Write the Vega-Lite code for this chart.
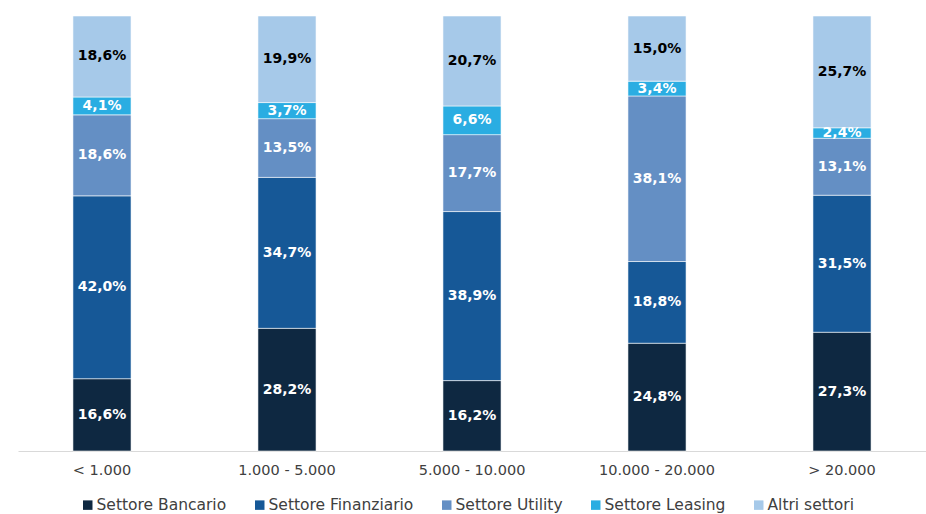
{
  "$schema": "https://vega.github.io/schema/vega-lite/v6.json",
  "width": 908,
  "height": 435,
  "autosize": {"type": "none"},
  "padding": {"left": 18, "top": 16, "right": 0, "bottom": 63},
  "background": "white",
  "data": {"values": [
    {"fascia": "< 1.000", "settore": "Settore Bancario", "ord": 1, "v": 16.6},
    {"fascia": "< 1.000", "settore": "Settore Finanziario", "ord": 2, "v": 42.0},
    {"fascia": "< 1.000", "settore": "Settore Utility", "ord": 3, "v": 18.6},
    {"fascia": "< 1.000", "settore": "Settore Leasing", "ord": 4, "v": 4.1},
    {"fascia": "< 1.000", "settore": "Altri settori", "ord": 5, "v": 18.6},
    {"fascia": "1.000 - 5.000", "settore": "Settore Bancario", "ord": 1, "v": 28.2},
    {"fascia": "1.000 - 5.000", "settore": "Settore Finanziario", "ord": 2, "v": 34.7},
    {"fascia": "1.000 - 5.000", "settore": "Settore Utility", "ord": 3, "v": 13.5},
    {"fascia": "1.000 - 5.000", "settore": "Settore Leasing", "ord": 4, "v": 3.7},
    {"fascia": "1.000 - 5.000", "settore": "Altri settori", "ord": 5, "v": 19.9},
    {"fascia": "5.000 - 10.000", "settore": "Settore Bancario", "ord": 1, "v": 16.2},
    {"fascia": "5.000 - 10.000", "settore": "Settore Finanziario", "ord": 2, "v": 38.9},
    {"fascia": "5.000 - 10.000", "settore": "Settore Utility", "ord": 3, "v": 17.7},
    {"fascia": "5.000 - 10.000", "settore": "Settore Leasing", "ord": 4, "v": 6.6},
    {"fascia": "5.000 - 10.000", "settore": "Altri settori", "ord": 5, "v": 20.7},
    {"fascia": "10.000 - 20.000", "settore": "Settore Bancario", "ord": 1, "v": 24.8},
    {"fascia": "10.000 - 20.000", "settore": "Settore Finanziario", "ord": 2, "v": 18.8},
    {"fascia": "10.000 - 20.000", "settore": "Settore Utility", "ord": 3, "v": 38.1},
    {"fascia": "10.000 - 20.000", "settore": "Settore Leasing", "ord": 4, "v": 3.4},
    {"fascia": "10.000 - 20.000", "settore": "Altri settori", "ord": 5, "v": 15.0},
    {"fascia": "> 20.000", "settore": "Settore Bancario", "ord": 1, "v": 27.3},
    {"fascia": "> 20.000", "settore": "Settore Finanziario", "ord": 2, "v": 31.5},
    {"fascia": "> 20.000", "settore": "Settore Utility", "ord": 3, "v": 13.1},
    {"fascia": "> 20.000", "settore": "Settore Leasing", "ord": 4, "v": 2.4},
    {"fascia": "> 20.000", "settore": "Altri settori", "ord": 5, "v": 25.7}
  ]},
  "transform": [
    {"stack": "v", "groupby": ["fascia"], "sort": [{"field": "ord", "order": "ascending"}], "offset": "normalize", "as": ["y0", "y1"]},
    {"calculate": "(datum.y0 + datum.y1) / 2", "as": "ymid"},
    {"calculate": "replace(format(datum.v, '.1f'), '.', ',') + '%'", "as": "label"}
  ],
  "encoding": {
    "x": {
      "field": "fascia", "type": "nominal",
      "sort": ["< 1.000", "1.000 - 5.000", "5.000 - 10.000", "10.000 - 20.000", "> 20.000"],
      "scale": {"paddingInner": 0.686, "paddingOuter": 0.297},
      "axis": {"title": null, "labelAngle": 0, "ticks": false, "domainColor": "#d9d9d9", "domainWidth": 1.2, "labelFont": "DejaVu Sans", "labelFontSize": 14.5, "labelColor": "#404040", "labelPadding": 12}
    }
  },
  "layer": [
    {
      "mark": {"type": "bar", "stroke": "#ffffff", "strokeWidth": 0.8, "strokeOpacity": 0.7},
      "encoding": {
        "y": {"field": "y0", "type": "quantitative", "scale": {"domain": [0, 1]}, "axis": null},
        "y2": {"field": "y1"},
        "color": {
          "field": "settore", "type": "nominal",
          "scale": {
            "domain": ["Settore Bancario", "Settore Finanziario", "Settore Utility", "Settore Leasing", "Altri settori"],
            "range": ["#0e2841", "#165897", "#648fc4", "#2aade2", "#a6c9e9"]
          },
          "legend": {
            "title": null, "orient": "none", "legendX": 62, "legendY": 481, "direction": "horizontal", "symbolType": "square",
            "symbolSize": 90, "symbolStrokeWidth": 0, "labelFont": "DejaVu Sans", "labelFontSize": 15.5,
            "labelColor": "#404040", "columnPadding": 25, "labelOffset": 1
          }
        }
      }
    },
    {
      "mark": {"type": "text", "font": "DejaVu Sans", "fontWeight": "bold", "fontSize": 14, "baseline": "middle"},
      "encoding": {
        "y": {"field": "ymid", "type": "quantitative", "scale": {"domain": [0, 1]}},
        "text": {"field": "label"},
        "color": {
          "condition": {"test": "datum.settore === 'Altri settori'", "value": "#000000"},
          "value": "#ffffff"
        }
      }
    }
  ],
  "config": {"view": {"stroke": null}}
}
